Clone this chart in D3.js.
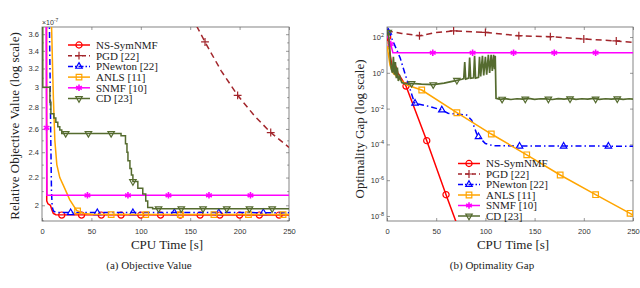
<!DOCTYPE html>
<meta charset="utf-8">
<style>
body { margin: 0; background: #fff; }
svg { display: block; }
.tick text { font: 7.5px "Liberation Sans", Arial, sans-serif; fill: #333; }
.tick line { stroke: #555; stroke-width: 0.6; }
.box { fill: none; stroke: #666; stroke-width: 0.8; }
.lbl { font: 13px "Liberation Serif", "Times New Roman", serif; fill: #222; }
.cap { font: 11px "Liberation Serif", "Times New Roman", serif; fill: #222; }
.leg { font: 11px "Liberation Serif", "Times New Roman", serif; fill: #222; }
</style>
<body>
<script src="https://cdn.jsdelivr.net/npm/d3@7"></script>
<script>
// ---- data ----
var names = ["NS-SymNMF", "PGD [22]", "PNewton [22]", "ANLS [11]", "SNMF [10]", "CD [23]"];
var timeTicks = [0, 50, 100, 150, 200, 250];
var objTicks = [2, 2.2, 2.4, 2.6, 2.8, 3, 3.2, 3.4, 3.6];
var objMinor = [1.9, 2.1, 2.3, 2.5, 2.7, 2.9, 3.1, 3.3, 3.5];
var gapExpTicks = [-8, -6, -4, -2, 0, 2];

// (a) relative objective value, units of 1e-7, [time, value]
var objNS = [[4.6,3.8],[4.7,2.6],[4.8,2.03],[6,2.01],[8.5,2.0],[10,1.97],[11.5,1.945],[14,1.936],[250,1.934]];
var objPGD = [[150,3.95],[157,3.69],[165,3.505],[181,3.18],[198,2.918],[215,2.72],[231.5,2.568],[250,2.44]];
var objPN = [[7.4,3.8],[8.2,3.1],[8.9,2.5],[9.6,2.1],[10.3,1.99],[11.5,1.962],[14,1.952],[250,1.95]];
var objANLS = [[9.5,3.8],[10.5,3.3],[11.5,2.9],[13,2.5],[15,2.3],[18,2.2],[23,2.12],[28,2.04],[35,1.965],[42,1.945],[50,1.939],[250,1.937]];
var objSNMF = [[4.2,3.8],[4.6,2.61],[5,2.07],[250,2.07]];
var objCD = [[0.5,3.8],[0.8,3.0],[8,2.85],[9,2.74],[12,2.70],[14,2.66],[16,2.62],[18,2.59],[20,2.56],[80,2.54],[84.5,2.47],[86,2.40],[87,2.33],[89,2.27],[90.5,2.22],[92,2.17],[97,2.12],[102,2.08],[105,2.03],[107,1.985],[112,1.977],[250,1.977]];

var objNSmk = [[20,1.934],[40,1.934],[60,1.934],[80,1.934],[100,1.934],[120,1.934],[140,1.934],[160,1.934],[180,1.934],[200,1.934],[220,1.934],[240,1.934]];
var objPGDmk = [[165,3.505],[198,2.918],[231.5,2.568]];
var objPNmk = [[29,1.95],[56,1.95],[92,1.95],[134,1.95],[179,1.95],[224,1.95]];
var objANLSmk = [[36,1.962],[70,1.937],[105,1.937],[140,1.937],[174,1.937],[209,1.937],[244,1.937]];
var objSNMFmk = [[4.6,2.61],[46,2.07],[87,2.07],[128,2.07],[169,2.07],[211,2.07]];
var objCDmk = [[24,2.56],[47,2.56],[70,2.56],[92,2.17],[118,1.977],[141,1.977],[163,1.977],[187,1.977],[210,1.977],[233,1.977]];

// (b) optimality gap, [time, log10 of gap]
var gapNS = [[0,1.8],[0.7,2.0],[2,1.5],[4.8,0.44],[7,0.3],[9,0.35],[11,0.0],[15,-0.35],[19.3,-0.74],[40.4,-3.79],[60,-6.81],[72,-8.6]];
var gapPGD = [[0,2.4],[4.8,2.3],[15,2.2],[33,2.07],[50,2.25],[67.7,2.34],[100,2.26],[134,2.07],[166,2.02],[200,1.89],[233,1.78],[250,1.70]];
var gapPN = [[0,2.2],[1.3,2.26],[3,2.2],[5,1.9],[10,1.27],[13.5,0.81],[18,0.0],[22,-0.68],[27,-1.52],[28.5,-1.70],[44,-1.89],[55.7,-2.08],[62,-2.26],[81,-2.36],[86,-2.64],[91,-3.38],[93,-3.57],[100,-3.95],[108,-4.08],[250,-4.1]];
var gapANLS = [[0,1.51],[1,1.2],[3,0.44],[6,0.0],[10,-0.22],[20,-0.68],[35.3,-0.96],[71,-2.23],[106,-3.42],[142,-4.58],[176,-5.71],[212,-6.81],[247,-7.85],[250,-7.95]];
var gapSNMF = [[0,2.1],[3.8,1.61],[6,1.12],[250,1.12]];
var gapCD = [[0,2.3],[1.3,2.27],[2.5,1.5],[3.5,0.7],[4.5,0.2],[5.5,0.0],[6.5,0.9],[7.5,-0.1],[8.5,0.6],[9.5,-0.3],[10.5,0.3],[11.5,-0.45],[13,-0.2],[15,-0.55],[18,-0.6],[25,-0.59],[35,-0.63],[47,-0.66],[58,-0.58],[71,-0.42],[76,-0.36],[78,-0.32],[79,0.6],[80,-0.35],[83,-0.3],[84,0.85],[85,-0.3],[88,-0.28],[89,0.95],[90,-0.3],[93,-0.25],[94,0.9],[95.2,-0.2],[97,0.95],[98.3,-0.15],[100,0.9],[101.3,-0.1],[103,1.0],[104.3,0.0],[105.8,1.0],[107,0.1],[108.3,1.0],[109.3,0.2],[110,0.95],[110.8,-1.42],[115,-1.48],[120,-1.44],[126,-1.49],[132,-1.45],[138,-1.47],[144,-1.43],[150,-1.48],[156,-1.45],[162,-1.46],[168,-1.49],[174,-1.44],[180,-1.47],[186,-1.43],[192,-1.48],[198,-1.45],[204,-1.47],[210,-1.43],[216,-1.48],[222,-1.45],[228,-1.47],[234,-1.44],[240,-1.48],[246,-1.45],[250,-1.47]];

var gapNSmk = [[0.7,2.0],[19.3,-0.74],[40.4,-3.79],[60,-6.81]];
var gapPGDmk = [[33,2.07],[67.7,2.34],[100,2.26],[134,2.07],[166,2.02],[200,1.89],[233,1.78]];
var gapPNmk = [[1.3,2.26],[28.5,-1.70],[55.7,-2.08],[93,-3.57],[134.7,-4.1],[179.5,-4.1],[225,-4.1]];
var gapANLSmk = [[0,1.51],[35.3,-0.96],[71,-2.23],[106,-3.42],[142,-4.58],[176,-5.71],[212,-6.81],[247,-7.85]];
var gapSNMFmk = [[3.8,1.61],[46.5,1.12],[87,1.12],[128.6,1.12],[170,1.12],[212,1.12]];
var gapCDmk = [[1.3,2.27],[25,-0.59],[47,-0.66],[71,-0.42],[117,-1.47],[140.5,-1.46],[164,-1.46],[186,-1.45],[212,-1.46],[234,-1.45]];

// ---- styles ----
var colors = ["#ff0000", "#a2252b", "#0000ff", "#ffa500", "#ff00ff", "#556b2f"];
var dashes = [null, "6,4", "6,3,1.5,3", null, null, null];
var symbols = [
  {type: d3.symbolCircle, size: 30, rot: 0},
  {type: d3.symbolPlus, size: 22, rot: 0},
  {type: d3.symbolTriangle2, size: 30, rot: 0},
  {type: d3.symbolSquare2, size: 40, rot: 0},
  {type: d3.symbolAsterisk, size: 30, rot: 0},
  {type: d3.symbolTriangle2, size: 30, rot: 180}
];

var svg = d3.select("body").append("svg")
    .attr("width", 640)
    .attr("height", 288);

function panel(opt) {
  var x = d3.scaleLinear().domain([0, 250]).range([opt.x0, opt.x1]);
  var y = d3.scaleLog().domain(opt.yDomain).range([221, 27]);
  var top = 27, bottom = 221;
  var g = svg.append("g");

  var clipId = "clip" + opt.id;
  svg.append("clipPath").attr("id", clipId)
    .append("rect").attr("x", opt.x0).attr("y", top)
    .attr("width", opt.x1 - opt.x0).attr("height", bottom - top);

  // axes, ticks pointing inward, mirrored on top/right
  var xb = g.append("g").attr("transform", "translate(0," + bottom + ")")
    .call(d3.axisBottom(x).tickValues(timeTicks).tickSizeInner(-3).tickSizeOuter(0).tickPadding(7.5));
  g.append("g").attr("transform", "translate(0," + top + ")")
    .call(d3.axisTop(x).tickValues(timeTicks).tickSizeInner(-3).tickSizeOuter(0).tickFormat(""));
  var yl = g.append("g").attr("transform", "translate(" + opt.x0 + ",0)")
    .call(d3.axisLeft(y).tickValues(opt.yTicks).tickSizeInner(-3).tickSizeOuter(0).tickPadding(3).tickFormat(opt.fmt));
  g.append("g").attr("transform", "translate(" + opt.x1 + ",0)")
    .call(d3.axisRight(y).tickValues(opt.yTicks).tickSizeInner(-3).tickSizeOuter(0).tickFormat(""));
  if (opt.yMinor) {
    g.append("g").attr("transform", "translate(" + opt.x0 + ",0)")
      .call(d3.axisLeft(y).tickValues(opt.yMinor).tickSizeInner(-1.8).tickSizeOuter(0).tickFormat(""));
    g.append("g").attr("transform", "translate(" + opt.x1 + ",0)")
      .call(d3.axisRight(y).tickValues(opt.yMinor).tickSizeInner(-1.8).tickSizeOuter(0).tickFormat(""));
  }
  g.selectAll(".domain").remove();
  if (opt.exp) {
    yl.selectAll(".tick text").text(null).each(function(d) {
      var t = d3.select(this);
      t.append("tspan").text("10");
      t.append("tspan").attr("dy", -3).style("font-size", "5.5px").text(Math.round(Math.log10(d)));
    });
  }
  g.append("rect").attr("class", "box")
    .attr("x", opt.x0).attr("y", top).attr("width", opt.x1 - opt.x0).attr("height", bottom - top);

  // curves
  var plot = g.append("g").attr("clip-path", "url(#" + clipId + ")");
  opt.series.forEach(function(s, i) {
    var line = d3.line()
        .x(function(d) { return x(d[0]); })
        .y(function(d) { return y(opt.val(d[1])); })
        .curve(opt.step && i === 5 ? d3.curveStepAfter : d3.curveLinear);
    plot.append("path")
      .attr("d", line(s))
      .attr("fill", "none")
      .attr("stroke", colors[i])
      .attr("stroke-width", (!opt.step && i === 5) ? 1.7 : 1.5)
      .attr("stroke-dasharray", dashes[i]);
    plot.selectAll(null).data(opt.marks[i]).enter().append("path")
      .attr("d", d3.symbol(symbols[i].type, symbols[i].size))
      .attr("transform", function(d) {
        return "translate(" + x(d[0]) + "," + y(opt.val(d[1])) + ") rotate(" + symbols[i].rot + ")";
      })
      .attr("fill", "none")
      .attr("stroke", colors[i])
      .attr("stroke-width", i === 4 ? 1.6 : 1.2);
  });

  // legend
  var lg = g.append("g");
  names.forEach(function(n, i) {
    var ry = opt.legY + i * opt.legDy;
    lg.append("line")
      .attr("x1", opt.legX).attr("x2", opt.legX + 22).attr("y1", ry).attr("y2", ry)
      .attr("stroke", colors[i]).attr("stroke-width", 1.5)
      .attr("stroke-dasharray", dashes[i] ? (i === 1 ? "4,3" : "5,2,1.5,2") : null);
    lg.append("path")
      .attr("d", d3.symbol(symbols[i].type, symbols[i].size))
      .attr("transform", "translate(" + (opt.legX + 11) + "," + ry + ") rotate(" + symbols[i].rot + ")")
      .attr("fill", "none").attr("stroke", colors[i]).attr("stroke-width", i === 4 ? 1.6 : 1.2);
    lg.append("text").attr("class", "leg")
      .attr("x", opt.legX + 28).attr("y", ry).attr("dy", "0.35em").text(n);
  });

  // labels
  g.append("text").attr("class", "lbl")
    .attr("text-anchor", "middle")
    .attr("transform", "translate(" + opt.yLabX + "," + opt.yLabY + ") rotate(-90)")
    .text(opt.yLabel);
  g.append("text").attr("class", "lbl")
    .attr("text-anchor", "middle").attr("x", opt.xLabX).attr("y", 249)
    .text("CPU Time [s]");
  g.append("text").attr("class", "cap")
    .attr("text-anchor", "middle").attr("x", opt.capX).attr("y", 268.5)
    .text(opt.caption);
  return g;
}

var gA = panel({
  id: "a", x0: 42, x1: 289,
  yDomain: [1.895, 3.69], yTicks: objTicks, yMinor: objMinor,
  fmt: d3.format("~g"), val: function(v) { return v; }, step: true,
  series: [objNS, objPGD, objPN, objANLS, objSNMF, objCD],
  marks: [objNSmk, objPGDmk, objPNmk, objANLSmk, objSNMFmk, objCDmk],
  legX: 68, legY: 45, legDy: 10.7,
  yLabX: 18.5, yLabY: 126, yLabel: "Relative Objective Value (log scale)",
  xLabX: 167, capX: 149, caption: "(a) Objective Value"
});

var expTick = gapExpTicks.map(function(e) { return Math.pow(10, e); });
panel({
  id: "b", x0: 387, x1: 633,
  yDomain: [Math.pow(10, -8.28), Math.pow(10, 2.56)], yTicks: expTick, yMinor: null,
  fmt: d3.format(""), exp: true, val: function(e) { return Math.pow(10, e); }, step: false,
  series: [gapNS, gapPGD, gapPN, gapANLS, gapSNMF, gapCD],
  marks: [gapNSmk, gapPGDmk, gapPNmk, gapANLSmk, gapSNMFmk, gapCDmk],
  legX: 458, legY: 163.5, legDy: 10.5,
  yLabX: 363.5, yLabY: 129, yLabel: "Optimality Gap (log scale)",
  xLabX: 513, capX: 492, caption: "(b) Optimality Gap"
});

// x10^-7 multiplier over the left axis
var mult = gA.append("text").attr("x", 42).attr("y", 24.5)
  .style("font", "7px 'Liberation Sans', Arial, sans-serif").style("fill", "#333");
mult.append("tspan").text("\u00d710");
mult.append("tspan").attr("dy", -3).style("font-size", "5px").text("-7");
</script>
